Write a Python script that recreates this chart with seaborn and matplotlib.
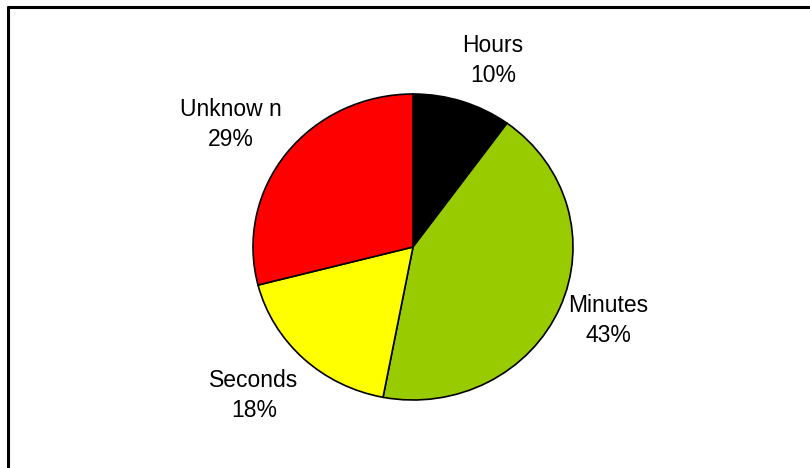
import matplotlib
matplotlib.use("Agg")
import matplotlib.pyplot as plt
import numpy as np
import seaborn as sns

categories = ["Hours", "Minutes", "Seconds", "Unknow n"]
shares = [10, 43, 18, 29]
colours = ["#000000", "#99CC00", "#FFFF00", "#FF0000"]
# label placement: radial distance and angle nudge (deg) from wedge middle
label_dist = [1.32, 1.31, 1.39, 1.39]
label_nudge = [-4.3, 2.0, -2.4, 2.7]

sns.set_style("white")
plt.rcParams['font.family'] = ['Liberation Sans', 'DejaVu Sans']

fig = plt.figure(figsize=(8.1, 4.68), dpi=100)
W, H = 810, 468
# axes box = pie bounding box (slightly squashed, like the original)
ax = fig.add_axes([253 / W, (H - 400) / H, 320 / W, 306 / H])

palette = sns.color_palette(colours)
wedges, _ = ax.pie(shares, colors=palette, startangle=90, counterclock=False,
                   wedgeprops={'edgecolor': 'black', 'linewidth': 1.2})
ax.set_aspect('auto')
ax.set_xlim(-1, 1)
ax.set_ylim(-1, 1)
ax.axis('off')

for w, name, pct, d, nd in zip(wedges, categories, shares, label_dist, label_nudge):
  mid = np.deg2rad((w.theta1 + w.theta2) / 2 + nd)
  ax.text(d * np.cos(mid), d * np.sin(mid), f'{name}\n{pct}%',
          ha='center', va='center', fontsize=16.5, linespacing=1.4,
          color='black', clip_on=False)

# frame (only top/left edges visible in the original crop)
fig.add_artist(plt.Line2D([8 / W, 1], [1 - 7 / H, 1 - 7 / H], color='black',
                          linewidth=2.2, transform=fig.transFigure))
fig.add_artist(plt.Line2D([8 / W, 8 / W], [0, 1 - 7 / H], color='black',
                          linewidth=2.2, transform=fig.transFigure))

fig.savefig('out.png', dpi=100)
